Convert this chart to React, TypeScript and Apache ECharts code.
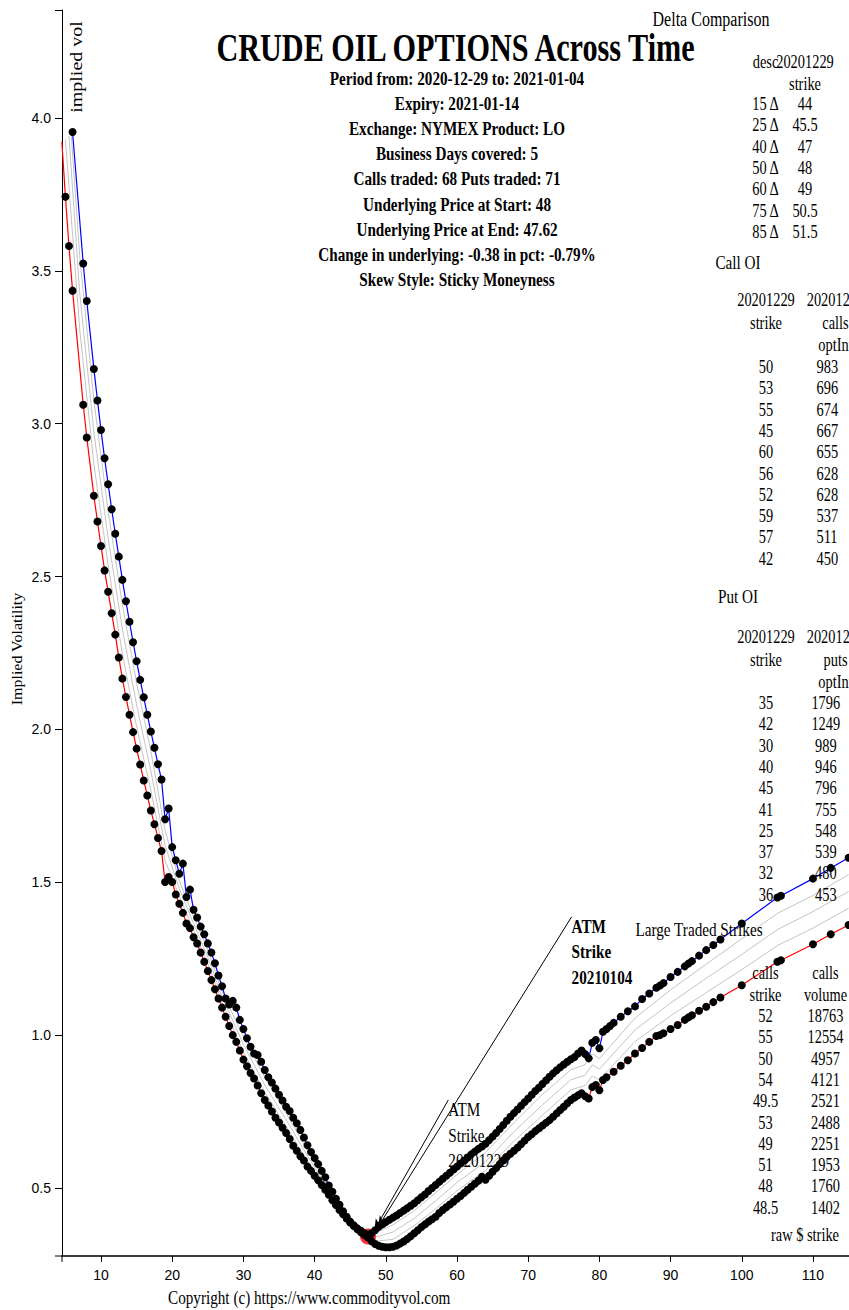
import React, { useEffect, useRef } from "react";
import * as echarts from "echarts";

// ---------------- data ----------------
const titleText = "CRUDE OIL OPTIONS Across Time";
const subtitleLines = [
  "Period from: 2020-12-29 to: 2021-01-04",
  "Expiry: 2021-01-14",
  "Exchange: NYMEX Product: LO",
  "Business Days covered: 5",
  "Calls traded: 68 Puts traded: 71",
  "Underlying Price at Start: 48",
  "Underlying Price at End: 47.62",
  "Change in underlying: -0.38 in pct: -0.79%",
  "Skew Style: Sticky Moneyness",
];

const deltaDescs = ["15 Δ", "25 Δ", "40 Δ", "50 Δ", "60 Δ", "75 Δ", "85 Δ"];
const deltaStrikes = ["44", "45.5", "47", "48", "49", "50.5", "51.5"];
const callOIStrikes = ["50", "53", "55", "45", "60", "56", "52", "59", "57", "42"];
const callOIValues = ["983", "696", "674", "667", "655", "628", "628", "537", "511", "450"];
const putOIStrikes = ["35", "42", "30", "40", "45", "41", "25", "37", "32", "36"];
const putOIValues = ["1796", "1249", "989", "946", "796", "755", "548", "539", "480", "453"];
const largeCallStrikes = ["52", "55", "50", "54", "49.5", "53", "49", "51", "48", "48.5"];
const largeCallVolumes = ["18763", "12554", "4957", "4121", "2521", "2488", "2251", "1953", "1760", "1402"];

const xTicks = [10, 20, 30, 40, 50, 60, 70, 80, 90, 100, 110];
const yTicks = [0.5, 1.0, 1.5, 2.0, 2.5, 3.0, 3.5, 4.0];

// 20210104 curve (blue) [strike, implied vol]
const curveEnd = [
  [6, 3.954], [7.5, 3.524], [8, 3.401], [9, 3.179], [9.5, 3.076], [10, 2.979], [10.5, 2.887], [11, 2.802],
  [11.5, 2.72], [12, 2.64], [12.5, 2.565], [13, 2.489], [13.5, 2.419], [14, 2.352], [14.5, 2.285], [15, 2.223],
  [15.5, 2.162], [16, 2.105], [16.5, 2.048], [17, 1.993], [17.5, 1.94], [18, 1.886], [18.5, 1.836], [19, 1.706],
  [19.5, 1.741], [20, 1.615], [20.5, 1.572], [21, 1.528], [21.5, 1.561], [22, 1.452], [22.5, 1.476], [23, 1.41],
  [23.5, 1.385], [24, 1.355], [24.5, 1.33], [25, 1.3], [25.5, 1.27], [26, 1.235], [26.5, 1.195], [27, 1.16],
  [27.5, 1.12], [28, 1.1], [28.5, 1.112], [29, 1.09], [29.5, 1.05], [30, 1.02], [30.5, 0.99], [31, 0.962],
  [31.5, 0.94], [32, 0.935], [32.5, 0.913], [33, 0.886], [33.5, 0.862], [34, 0.845], [34.5, 0.825], [35, 0.805],
  [35.5, 0.786], [36, 0.766], [36.5, 0.752], [37, 0.73], [37.5, 0.712], [38, 0.69], [38.5, 0.665], [39, 0.64],
  [39.5, 0.618], [40, 0.598], [40.5, 0.578], [41, 0.556], [41.5, 0.535], [42, 0.508], [42.5, 0.488], [43, 0.465],
  [43.5, 0.445], [44, 0.424], [44.5, 0.406], [45, 0.39], [45.5, 0.378], [46, 0.368], [46.5, 0.36], [47, 0.352],
  [47.5, 0.347], [48, 0.352], [48.5, 0.362], [49, 0.373], [49.5, 0.381], [50, 0.389], [50.5, 0.396], [51, 0.403],
  [51.5, 0.41], [52, 0.418], [52.5, 0.426], [53, 0.434], [53.5, 0.442], [54, 0.45], [54.5, 0.46], [55, 0.47],
  [55.5, 0.479], [56, 0.49], [56.5, 0.5], [57, 0.51], [57.5, 0.52], [58, 0.53], [58.5, 0.54], [59, 0.55],
  [59.5, 0.56], [60, 0.57], [60.5, 0.58], [61, 0.59], [61.5, 0.6], [62, 0.61], [62.5, 0.619], [63, 0.628],
  [63.5, 0.636], [64, 0.645], [64.5, 0.656], [65, 0.668], [65.5, 0.68], [66, 0.693], [66.5, 0.706], [67, 0.72],
  [67.5, 0.733], [68, 0.745], [68.5, 0.757], [69, 0.769], [69.5, 0.781], [70, 0.793], [70.5, 0.805], [71, 0.817],
  [71.5, 0.828], [72, 0.84], [72.5, 0.852], [73, 0.864], [73.5, 0.875], [74, 0.885], [74.5, 0.895], [75, 0.904],
  [75.5, 0.913], [76, 0.921], [76.5, 0.928], [77, 0.94], [77.5, 0.95], [78, 0.938], [78.5, 0.924], [79, 0.975],
  [79.5, 0.984], [80, 0.957], [80.5, 1.011], [81, 1.02], [81.5, 1.03], [82, 1.04], [83, 1.06], [84, 1.078],
  [85, 1.094], [86, 1.118], [87, 1.136], [88, 1.155], [88.5, 1.162], [89, 1.17], [90, 1.19], [91, 1.207],
  [92, 1.225], [92.5, 1.234], [93, 1.242], [94, 1.26], [95, 1.278], [96, 1.295], [97, 1.313], [100, 1.365],
  [105, 1.45], [105.5, 1.456], [110, 1.512], [112.5, 1.547], [115, 1.58],
];

// 20201229 curve (red)
const curveStart = [
  [4.5, 3.922], [5, 3.742], [5.5, 3.581], [6, 3.435], [7.5, 3.062], [8, 2.955], [9, 2.764], [9.5, 2.68],
  [10, 2.6], [10.5, 2.52], [11, 2.45], [11.5, 2.38], [12, 2.31], [12.5, 2.235], [13, 2.166], [13.5, 2.106],
  [14, 2.048], [14.5, 1.991], [15, 1.937], [15.5, 1.885], [16, 1.833], [16.5, 1.784], [17, 1.735], [17.5, 1.69],
  [18, 1.645], [18.5, 1.602], [19, 1.501], [19.5, 1.517], [20, 1.501], [20.5, 1.46], [21, 1.43], [21.5, 1.4],
  [22, 1.365], [22.5, 1.35], [23, 1.32], [23.5, 1.3], [24, 1.27], [24.5, 1.24], [25, 1.21], [25.5, 1.18],
  [26, 1.15], [26.5, 1.12], [27, 1.09], [27.5, 1.06], [28, 1.03], [28.5, 1.0], [29, 0.978], [29.5, 0.95],
  [30, 0.92], [30.5, 0.898], [31, 0.876], [31.5, 0.858], [32, 0.835], [32.5, 0.81], [33, 0.788], [33.5, 0.77],
  [34, 0.75], [34.5, 0.73], [35, 0.714], [35.5, 0.697], [36, 0.68], [36.5, 0.66], [37, 0.638], [37.5, 0.622],
  [38, 0.604], [38.5, 0.59], [39, 0.57], [39.5, 0.556], [40, 0.54], [40.5, 0.525], [41, 0.51], [41.5, 0.494],
  [42, 0.478], [42.5, 0.46], [43, 0.444], [43.5, 0.428], [44, 0.414], [44.5, 0.4], [45, 0.387], [45.5, 0.376],
  [46, 0.365], [46.5, 0.355], [47, 0.346], [47.5, 0.338], [48, 0.326], [48.5, 0.317], [49, 0.311], [49.5, 0.308],
  [50, 0.306], [50.5, 0.306], [51, 0.308], [51.5, 0.312], [52, 0.318], [52.5, 0.325], [53, 0.333], [53.5, 0.342],
  [54, 0.352], [54.5, 0.362], [55, 0.372], [55.5, 0.381], [56, 0.39], [56.5, 0.398], [57, 0.406], [57.5, 0.418],
  [58, 0.428], [58.5, 0.437], [59, 0.446], [59.5, 0.455], [60, 0.465], [60.5, 0.474], [61, 0.484], [61.5, 0.494],
  [62, 0.504], [62.5, 0.514], [63, 0.524], [63.5, 0.537], [64, 0.527], [64.5, 0.54], [65, 0.553], [65.5, 0.565],
  [66, 0.578], [66.5, 0.59], [67, 0.602], [67.5, 0.612], [68, 0.622], [68.5, 0.632], [69, 0.643], [69.5, 0.655],
  [70, 0.667], [70.5, 0.676], [71, 0.686], [71.5, 0.695], [72, 0.704], [72.5, 0.713], [73, 0.722], [73.5, 0.733],
  [74, 0.744], [74.5, 0.755], [75, 0.766], [75.5, 0.777], [76, 0.788], [76.5, 0.796], [77, 0.803], [77.5, 0.81],
  [78, 0.8], [78.5, 0.793], [79, 0.83], [79.5, 0.837], [80, 0.82], [80.5, 0.853], [81, 0.862], [82, 0.88],
  [83, 0.9], [84, 0.918], [85, 0.94], [86, 0.958], [87, 0.978], [88, 0.997], [88.5, 1.0], [89, 1.006],
  [90, 1.02], [91, 1.033], [92, 1.05], [92.5, 1.058], [93, 1.065], [94, 1.08], [95, 1.093], [96, 1.108],
  [97, 1.123], [100, 1.163], [105, 1.24], [105.5, 1.245], [110, 1.297], [112.5, 1.33], [115, 1.36],
];

// intermediate days (grey)
const curveDay2 = [
  [5.0, 3.93], [7, 3.31], [9, 2.868], [11, 2.538], [13, 2.247], [15, 2.009], [17, 1.8], [19, 1.57], [21, 1.455],
  [23, 1.343], [25, 1.233], [27, 1.108], [30, 0.945], [33, 0.813], [36, 0.702], [39, 0.588], [42, 0.486],
  [45, 0.388], [47, 0.347], [48, 0.331], [49, 0.327], [51, 0.332], [54, 0.377], [57, 0.432], [60, 0.491],
  [64, 0.557], [68, 0.653], [72, 0.738], [76, 0.821], [78, 0.835], [79, 0.866], [80, 0.854], [85, 0.979],
  [90, 1.063], [95, 1.139], [100, 1.214], [105, 1.293], [110, 1.35], [115, 1.415],
];
const curveDay3 = [
  [5.5, 3.94], [7, 3.43], [9, 2.972], [11, 2.626], [13, 2.328], [15, 2.08], [17, 1.864], [19, 1.62], [21, 1.479],
  [23, 1.365], [25, 1.255], [27, 1.125], [30, 0.97], [33, 0.837], [36, 0.723], [39, 0.605], [42, 0.493],
  [45, 0.389], [47, 0.349], [48, 0.338], [49, 0.342], [51, 0.356], [54, 0.401], [57, 0.458], [60, 0.518],
  [64, 0.586], [68, 0.684], [72, 0.772], [76, 0.854], [78, 0.869], [79, 0.903], [80, 0.889], [85, 1.017],
  [90, 1.105], [95, 1.186], [100, 1.264], [105, 1.345], [110, 1.404], [115, 1.47],
];
const curveDay4 = [
  [5.8, 3.95], [7, 3.55], [9, 3.075], [11, 2.714], [13, 2.408], [15, 2.152], [17, 1.929], [19, 1.67], [21, 1.504],
  [23, 1.388], [25, 1.278], [27, 1.143], [30, 0.995], [33, 0.862], [36, 0.745], [39, 0.623], [42, 0.5],
  [45, 0.389], [47, 0.35], [48, 0.344], [49, 0.358], [51, 0.379], [54, 0.426], [57, 0.484], [60, 0.544],
  [64, 0.616], [68, 0.714], [72, 0.806], [76, 0.887], [78, 0.904], [79, 0.939], [80, 0.923], [85, 1.056],
  [90, 1.148], [95, 1.232], [100, 1.315], [105, 1.398], [110, 1.457], [115, 1.525],
];

const atmPoint = [47.5, 0.341];
const atmNotes = [
  { lines: ["ATM", "Strike", "20210104"], anchor: [76.1, 1.387], tip: [48.9, 0.372], bold: true },
  { lines: ["ATM", "Strike", "20201229"], anchor: [58.78, 0.788], tip: [48.4, 0.362], bold: false },
];

// ---------------- helpers ----------------
const SERIF = "'Liberation Serif','Times New Roman',serif";
const SANS = "'Liberation Sans',Arial,sans-serif";

type TOpts = { bold?: boolean; scaleX?: number; scaleY?: number; rotation?: number; align?: string };
function txt(x: number, y: number, text: string, size: number, o: TOpts = {}) {
  const align = o.align || "center";
  return {
    type: "text",
    x,
    y,
    scaleX: o.scaleX === undefined ? 0.8 : o.scaleX,
    scaleY: o.scaleY === undefined ? 1 : o.scaleY,
    rotation: o.rotation || 0,
    silent: true,
    z: 100,
    style: {
      text,
      x: 0,
      y: 0,
      fill: "#000",
      font: `${o.bold ? "bold " : ""}${size}px ${SERIF}`,
      textAlign: align,
      textVerticalAlign: "middle",
      align,
      verticalAlign: "middle",
    },
  };
}

function hline(x1: number, y1: number, x2: number, y2: number) {
  return { type: "line", silent: true, z: 50, shape: { x1, y1, x2, y2 }, style: { stroke: "#000", lineWidth: 1 } };
}

export default function App() {
  const ref = useRef<HTMLDivElement>(null);

  useEffect(() => {
    if (!ref.current) return;
    const chart = echarts.init(ref.current, null, { renderer: "svg" });

    const GL = 62, GT = 10, GB = 1256;

    const greySeries = (data: number[][]) => ({
      type: "line",
      data,
      showSymbol: false,
      symbol: "none",
      lineStyle: { color: "#c4c4c4", width: 1 },
      z: 2,
      silent: true,
    });
    const dotSeries = (data: number[][], color: string, z: number, extra: any = {}) => ({
      type: "line",
      data,
      showSymbol: true,
      symbol: "circle",
      symbolSize: 8,
      itemStyle: { color: "#000" },
      lineStyle: { color, width: 1.2 },
      z,
      silent: true,
      ...extra,
    });

    const option: any = {
      animation: false,
      backgroundColor: "#fff",
      grid: { left: GL, right: 0, top: GT, bottom: 1310 - GB, containLabel: false },
      xAxis: {
        type: "value",
        min: 4.52,
        max: 115.06,
        axisLine: { show: true, onZero: false, lineStyle: { color: "#000", width: 1.5 } },
        axisTick: { show: true, length: 6, customValues: xTicks, lineStyle: { color: "#000" } },
        axisLabel: {
          customValues: xTicks,
          color: "#000",
          fontSize: 14,
          fontFamily: SANS,
          margin: 12,
          formatter: (v: number) => String(v),
        },
        splitLine: { show: false },
      },
      yAxis: {
        type: "value",
        min: 0.2776,
        max: 4.353,
        axisLine: { show: true, onZero: false, lineStyle: { color: "#000", width: 1 } },
        axisTick: { show: true, length: 7, customValues: yTicks, lineStyle: { color: "#000" } },
        axisLabel: {
          customValues: yTicks,
          color: "#000",
          fontSize: 14,
          fontFamily: SANS,
          margin: 11,
          formatter: (v: number) => v.toFixed(1),
        },
        splitLine: { show: false },
      },
      series: [
        greySeries(curveDay2),
        greySeries(curveDay3),
        greySeries(curveDay4),
        {
          type: "scatter",
          data: [atmPoint],
          symbolSize: 16,
          itemStyle: { color: "#ff0000" },
          z: 3,
          silent: true,
        },
        dotSeries(curveStart, "#ff0000", 4, {
          markLine: {
            silent: true,
            symbol: ["none", "arrow"],
            symbolSize: [7, 11],
            label: { show: false },
            lineStyle: { color: "#000", width: 1, type: "solid" },
            data: atmNotes.map((n) => [{ coord: n.anchor }, { coord: n.tip }]),
          },
        }),
        dotSeries(curveEnd, "#0000ff", 5),
      ],
    };
    chart.setOption(option);

    const g: any[] = [];
    g.push(txt(455.5, 47, titleText, 40, { bold: true, scaleX: 0.755 }));
    subtitleLines.forEach((s, i) => g.push(txt(457, 79 + i * 25.1, s, 19, { bold: true })));

    // Delta comparison
    g.push(txt(711, 19, "Delta Comparison", 20));
    g.push(txt(765.5, 62, "desc", 18));
    g.push(txt(805, 62, "20201229", 18));
    g.push(txt(805, 84, "strike", 18));
    deltaDescs.forEach((d, i) => {
      g.push(txt(765.5, 104 + i * 21.3, d, 18));
      g.push(txt(805, 104 + i * 21.3, deltaStrikes[i], 18));
    });

    // Call OI
    g.push(txt(738, 263, "Call OI", 19));
    g.push(txt(766, 300, "20201229", 18));
    g.push(txt(766, 323, "strike", 18));
    g.push(txt(835.5, 300, "20201229", 18));
    g.push(txt(835.5, 323, "calls", 18));
    g.push(txt(835.5, 345, "optInt", 18));
    callOIStrikes.forEach((s, i) => {
      g.push(txt(766, 367 + i * 21.3, s, 18));
      g.push(txt(816.5, 367 + i * 21.3, callOIValues[i], 18, { align: "left" }));
    });

    // Put OI
    g.push(txt(738, 597, "Put OI", 19));
    g.push(txt(766, 637, "20201229", 18));
    g.push(txt(766, 660, "strike", 18));
    g.push(txt(835.5, 637, "20201229", 18));
    g.push(txt(835.5, 660, "puts", 18));
    g.push(txt(835.5, 682, "optInt", 18));
    putOIStrikes.forEach((s, i) => {
      g.push(txt(766, 703 + i * 21.3, s, 18));
      const v = putOIValues[i];
      g.push(txt(815 - (v.length - 3) * 3.6, 703 + i * 21.3, v, 18, { align: "left" }));
    });

    // Large traded strikes
    g.push(txt(699, 930, "Large Traded Strikes", 19));
    g.push(txt(765.5, 973, "calls", 18));
    g.push(txt(765.5, 995, "strike", 18));
    g.push(txt(825.5, 973, "calls", 18));
    g.push(txt(825.5, 995, "volume", 18));
    largeCallStrikes.forEach((s, i) => {
      g.push(txt(765.5, 1016 + i * 21.3, s, 18));
      g.push(txt(825.5, 1016 + i * 21.3, largeCallVolumes[i], 18));
    });
    g.push(txt(805, 1235, "raw $ strike", 18));

    // axis titles & copyright
    g.push(txt(17, 649, "Implied Volatility", 16, { rotation: Math.PI / 2, scaleX: 1, scaleY: 0.85 }));
    g.push(txt(76.5, 67, "implied vol", 20, { rotation: Math.PI / 2, scaleX: 1, scaleY: 0.85 }));
    g.push(txt(168, 1298, "Copyright (c) https://www.commodityvol.com", 19, { align: "left" }));

    // d3-style outer ticks
    g.push(hline(55, GT + 0.5, GL, GT + 0.5));
    g.push(hline(55, GB, GL, GB));
    g.push(hline(GL, GB, GL, GB + 6));

    // ATM annotation texts
    atmNotes.forEach((n) => {
      const p = chart.convertToPixel({ xAxisIndex: 0, yAxisIndex: 0 }, n.anchor) as number[];
      n.lines.forEach((l, i) => {
        g.push(txt(p[0], p[1] + 10 + i * 25.5, l, 19, { bold: n.bold, align: "left" }));
      });
    });

    chart.setOption({ graphic: { elements: g } });

    return () => chart.dispose();
  }, []);

  return (
    <div
      ref={ref}
      style={{ position: "fixed", left: 0, top: 0, width: 849, height: 1310, background: "#fff" }}
    />
  );
}
